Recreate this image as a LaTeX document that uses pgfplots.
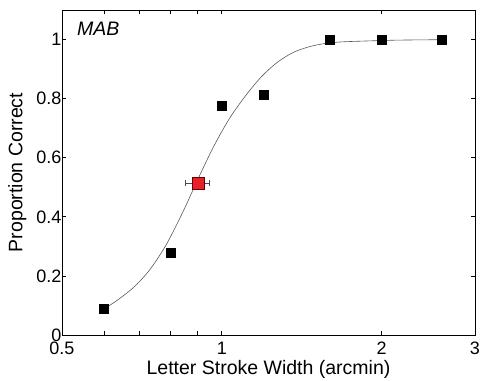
\documentclass[border=0pt]{standalone}
\usepackage{pgfplots}
\pgfplotsset{compat=1.18}
\usepackage{fontspec}
\setmainfont{Liberation Sans}
\definecolor{redsq}{RGB}{232,32,40}
\begin{document}
\begin{tikzpicture}
\begin{axis}[
  scale only axis,
  width=413pt, height=325pt,
  xmode=log,
  xmin=0.5, xmax=3,
  ymin=0, ymax=1.1,
  xtick={0.5,1,2,3},
  xticklabels={0.5,1,2,3},
  minor xtick={0.6,0.7,0.8,0.9},
  ytick={0,0.2,0.4,0.6,0.8,1},
  yticklabels={0,0.2,0.4,0.6,0.8,1},
  tick align=inside,
  major tick length=4.5pt,
  minor tick length=4.5pt,
  every tick/.style={black, line width=0.7pt},
  axis line style={black, line width=0.8pt},
  /pgf/number format/assume math mode=true,
  ticklabel style={font=\fontsize{18}{21}\selectfont},
  label style={font=\fontsize{19.5}{22}\selectfont},
  xlabel={Letter Stroke Width (arcmin)},
  ylabel={Proportion Correct},
  xlabel style={at={(axis description cs:0.5,-0.122)}, anchor=base, inner sep=0pt},
  ylabel style={at={(axis description cs:-0.108,0.5)}, anchor=center, inner sep=0pt},
  yticklabel style={xshift=3pt},
  xticklabel style={inner xsep=0pt, inner ysep=1pt, yshift=-6pt},
  clip=false,
]
\addplot[gray!70!black, line width=0.6pt, smooth] coordinates {
(0.6,0.088) (0.637,0.119) (0.683,0.162) (0.732,0.221) (0.785,0.304)
(0.841,0.409) (0.901,0.526) (0.966,0.639) (1.035,0.734) (1.110,0.811)
(1.189,0.875) (1.275,0.924) (1.366,0.957) (1.464,0.976) (1.569,0.987)
(1.682,0.992) (1.866,0.995) (2.144,0.998) (2.6,0.9995)
};
\addplot[only marks, mark=square*, mark size=4.5pt, mark options={fill=black, draw=black}] coordinates {
(0.6,0.09) (0.8,0.277) (1.0,0.777) (1.2,0.814) (1.6,1.0) (2.0,1.0) (2.6,1.0)
};
\addplot[only marks, mark=square*, mark size=5.8pt,
  mark options={fill=redsq, draw=red!40!black, line width=0.5pt},
  error bars/.cd, x dir=both, x explicit,
  error bar style={gray!60!black, line width=0.7pt},
  error mark options={rotate=90, mark size=3pt, gray!60!black, line width=0.7pt}]
  coordinates {(0.902,0.514) -= (0.048,0) += (0.044,0)};
\node[anchor=west, font=\fontsize{19.5}{22}\selectfont\itshape] at (rel axis cs:0.028,0.943) {MAB};
\end{axis}
\path (current axis.south west) ++(-62pt,-45pt) coordinate (bbA);
\path (current axis.north east) ++(6pt,10pt) coordinate (bbB);
\path (bbA) rectangle (bbB);
\end{tikzpicture}
\end{document}
